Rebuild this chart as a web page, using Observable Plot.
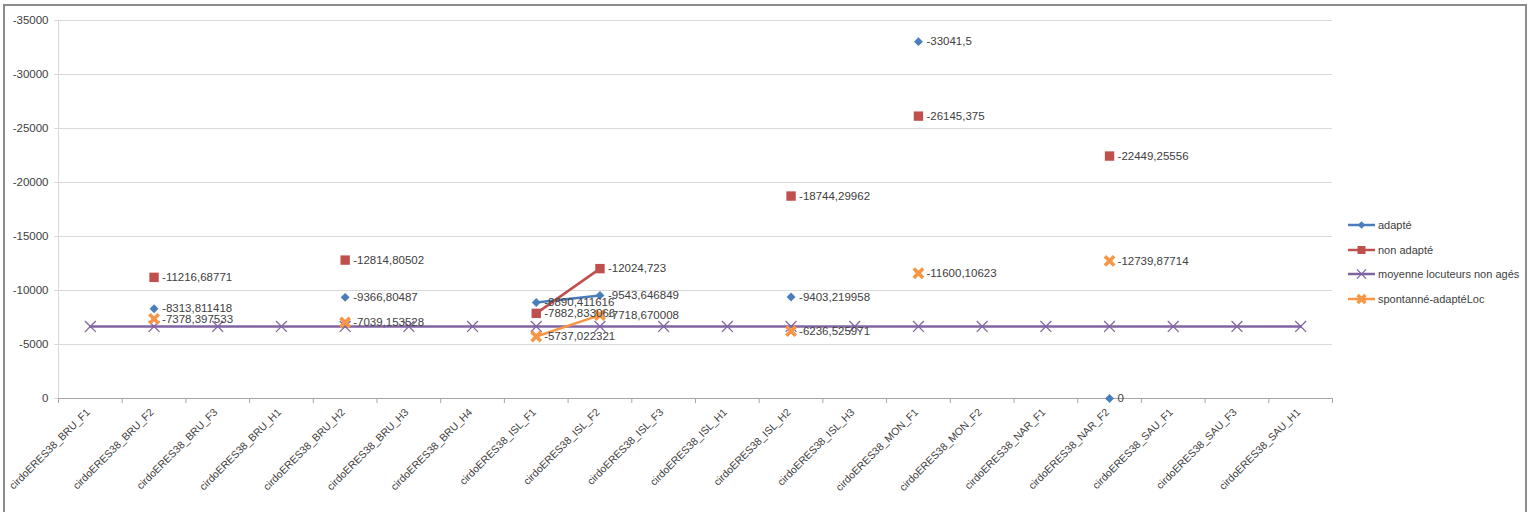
<!DOCTYPE html>
<html>
<head>
<meta charset="utf-8">
<script src="https://cdn.jsdelivr.net/npm/d3@7"></script>
<script src="https://cdn.jsdelivr.net/npm/@observablehq/plot@0.6"></script>
<style>
  html, body { margin: 0; padding: 0; background: #fff; }
  #wrap { position: relative; width: 1533px; height: 512px; overflow: hidden; font-family: "Liberation Sans", Arial, sans-serif; }
  #frame { position: absolute; left: 3px; top: 4px; width: 1524px; height: 520px; border: 2px solid #8c8c8c; box-sizing: border-box; pointer-events: none; }
  #chart { position: absolute; left: 0; top: 0; }
  #legend { position: absolute; left: 1348px; top: 213px; font-size: 11px; color: #404040; }
  .item { display: flex; align-items: center; height: 24.5px; }
  .item svg { margin-right: 3px; }
</style>
</head>
<body>
<div id="wrap">
  <div id="chart"></div>
  <div id="legend"></div>
  <div id="frame"></div>
</div>
<script>
const categories = [
  "cirdoERES38_BRU_F1", "cirdoERES38_BRU_F2", "cirdoERES38_BRU_F3", "cirdoERES38_BRU_H1",
  "cirdoERES38_BRU_H2", "cirdoERES38_BRU_H3", "cirdoERES38_BRU_H4", "cirdoERES38_ISL_F1",
  "cirdoERES38_ISL_F2", "cirdoERES38_ISL_F3", "cirdoERES38_ISL_H1", "cirdoERES38_ISL_H2",
  "cirdoERES38_ISL_H3", "cirdoERES38_MON_F1", "cirdoERES38_MON_F2", "cirdoERES38_NAR_F1",
  "cirdoERES38_NAR_F2", "cirdoERES38_SAU_F1", "cirdoERES38_SAU_F3", "cirdoERES38_SAU_H1"
];
const seriesNames = ["adapté", "non adapté", "moyenne locuteurs non agés", "spontanné-adaptéLoc"];
const adapte = [null, -8313.811418, null, null, -9366.80487, null, null, -8890.411616, -9543.646849, null,
  null, -9403.219958, null, -33041.5, null, null, 0, null, null, null];
const nonAdapte = [null, -11216.68771, null, null, -12814.80502, null, null, -7882.833066, -12024.723, null,
  null, -18744.29962, null, -26145.375, null, null, -22449.25556, null, null, null];
const moyenne = [-6670, -6670, -6670, -6670, -6670, -6670, -6670, -6670, -6670, -6670,
  -6670, -6670, -6670, -6670, -6670, -6670, -6670, -6670, -6670, -6670];
const spontane = [null, -7378.397533, null, null, -7039.153528, null, null, -5737.022321, -7718.670008, null,
  null, -6236.525971, null, -11600.10623, null, null, -12739.87714, null, null, null];
const yTicks = [0, -5000, -10000, -15000, -20000, -25000, -30000, -35000];

const colors = ["#4A7EBB", "#C0504D", "#8064A2", "#F79646"];
const valuesBySeries = [adapte, nonAdapte, moyenne, spontane];

const rows = [];
valuesBySeries.forEach((arr, s) => arr.forEach((v, i) => rows.push({i, s: seriesNames[s], si: s, v})));
const present = rows.filter(d => d.v !== null);
const idx = categories.map((_, i) => i);
const bounds = d3.range(categories.length + 1).map(i => i - 0.5);
const fmt = v => String(v).replace(".", ",");

const symbolOpts = [
  {symbol: "diamond2", r: 4, fill: colors[0], stroke: "none"},
  {symbol: "square", r: 5.3, fill: colors[1], stroke: "none"},
  {symbol: "times", r: 5, fill: "none", stroke: colors[2], strokeWidth: 1.3},
  {symbol: "times", r: 4.3, fill: "none", stroke: colors[3], strokeWidth: 3.6}
];

const lineMarks = valuesBySeries.map((arr, s) =>
  Plot.line(rows.filter(d => d.si === s), {x: "i", y: "v", stroke: colors[s], strokeWidth: 2.5})
);
const dotMarks = [2, 0, 1, 3].map(s =>
  Plot.dot(present.filter(d => d.si === s), {x: "i", y: "v", ...symbolOpts[s]})
);
const labelRows = present.filter(d => d.si !== 2);

const chart = Plot.plot({
  width: 1533,
  height: 512,
  marginLeft: 58,
  marginRight: 201,
  marginTop: 20,
  marginBottom: 114,
  style: {fontFamily: "'Liberation Sans', Arial, sans-serif", fontSize: "11px", color: "#404040", background: "transparent"},
  x: {type: "linear", domain: [-0.5, 19.5]},
  y: {domain: [0, -35000]},
  marks: [
    Plot.gridY({ticks: yTicks, stroke: "#d9d9d9", strokeOpacity: 1, strokeWidth: 1}),
    Plot.ruleX([-0.5], {stroke: "#d9d9d9"}),
    Plot.ruleY([0], {stroke: "#a6a6a6"}),
    Plot.axisY({ticks: yTicks, tickSize: 4, tickPadding: 6, stroke: "#d9d9d9", tickFormat: d => String(d), fontSize: 11.5, fill: "#404040", label: null}),
    Plot.axisX({ticks: bounds, tickSize: 5, stroke: "#a6a6a6", tickFormat: () => "", label: null}),
    Plot.axisX({ticks: idx, tickSize: 0, tickRotate: -45, textAnchor: "end", tickPadding: 12, dx: -2, tickFormat: i => categories[i], fontSize: 10.5, fill: "#404040", label: null}),
    ...lineMarks,
    ...dotMarks,
    Plot.text(labelRows, {x: "i", y: "v", text: d => fmt(d.v), textAnchor: "start", dx: 8, fontSize: 11.5, fill: "#404040"})
  ]
});
document.getElementById("chart").appendChild(chart);

// legend (HTML, beside the chart)
const legend = document.getElementById("legend");
seriesNames.forEach((name, s) => {
  const item = document.createElement("div");
  item.className = "item";
  const svg = d3.create("svg").attr("width", 27).attr("height", 12);
  svg.append("line").attr("x1", 0).attr("x2", 27).attr("y1", 6).attr("y2", 6)
    .attr("stroke", colors[s]).attr("stroke-width", 2.5);
  const o = symbolOpts[s];
  const sym = {diamond2: d3.symbolDiamond2, square: d3.symbolSquare, times: d3.symbolTimes}[o.symbol];
  const size = Math.PI * (o.r * 0.85) ** 2;
  svg.append("path").attr("d", d3.symbol(sym, size)()).attr("transform", "translate(13.5,6)")
    .attr("fill", o.fill).attr("stroke", o.stroke === "none" ? null : o.stroke)
    .attr("stroke-width", o.strokeWidth || null);
  item.appendChild(svg.node());
  const span = document.createElement("span");
  span.textContent = name;
  item.appendChild(span);
  legend.appendChild(item);
});
</script>
</body>
</html>
